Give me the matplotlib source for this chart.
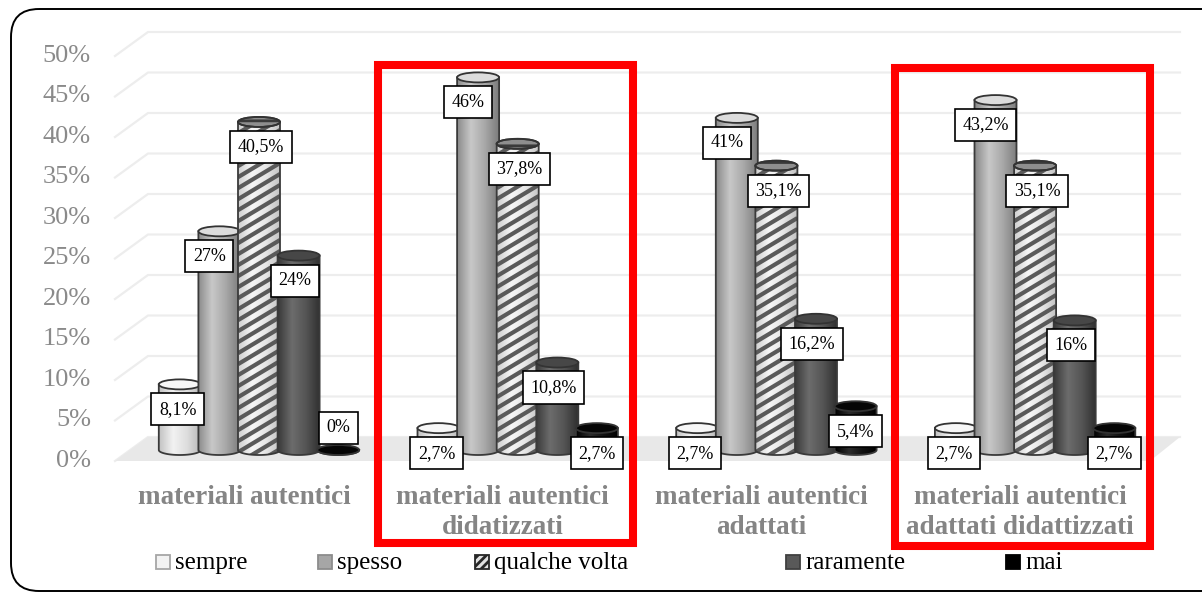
import numpy as np
import matplotlib
import matplotlib.pyplot as plt
from matplotlib.patches import Polygon, Ellipse, Rectangle, FancyBboxPatch
from matplotlib.colors import LinearSegmentedColormap
from matplotlib.collections import LineCollection

plt.rcParams['font.family'] = ['Liberation Serif', 'DejaVu Serif']
plt.rcParams['hatch.linewidth'] = 2.0

# data
categories = ["materiali autentici",
              "materiali autentici\ndidatizzati",
              "materiali autentici\nadattati",
              "materiali autentici\nadattati didattizzati"]
series = ["sempre", "spesso", "qualche volta", "raramente", "mai"]
sempre = [8.1, 2.7, 2.7, 2.7]
spesso = [27, 46, 41, 43.2]
qualche_volta = [40.5, 37.8, 35.1, 35.1]
raramente = [24, 10.8, 16.2, 16]
mai = [0, 2.7, 5.4, 2.7]
values = [sempre, spesso, qualche_volta, raramente, mai]
yticks = [0, 5, 10, 15, 20, 25, 30, 35, 40, 45, 50]
highlight = [1, 3]  # groups boxed in red

# layout (pixels)
W, H = 1202, 593
PX_PCT = 8.1       # pixels per percent
BASE = 450         # pixel row of bar base
G0, GSTEP = 259, 258.7
SSTEP, BW, EH = 39.6, 42, 10
FRONT, BACK = 11, 13   # 3D depth offsets

def xd(px):
    return (px - G0) / GSTEP

def yd(py):
    return (BASE - py) / PX_PCT

fig = plt.figure(figsize=(W / 100, H / 100), dpi=100)
ax = fig.add_axes([0, 0, 1, 1])
ax.axis('off')

# back-wall gridlines and tick labels
for v in yticks:
    yb = v + BACK / PX_PCT
    yf = v - FRONT / PX_PCT
    ax.plot([xd(115), xd(148), xd(1180)], [yf, yb, yb], color='#ededed', lw=1.6, zorder=1)
    ax.text(xd(91), yf, f"{v}%", ha='right', va='center', fontsize=19, color='#8a8a8a')

# floor
floor = Polygon([(xd(115), -FRONT / PX_PCT), (xd(148), BACK / PX_PCT),
                 (xd(1180), BACK / PX_PCT), (xd(1150), -FRONT / PX_PCT)],
                closed=True, facecolor='#e8e8e8', edgecolor='none', zorder=1.5)
ax.add_patch(floor)

body_cmaps = [
    ['#c2c2c2', '#f2f2f2', '#dedede', '#b8b8b8'],
    ['#8a8a8a', '#c8c8c8', '#a8a8a8', '#7c7c7c'],
    ['#cfcfcf', '#f6f6f6', '#e6e6e6', '#c4c4c4'],
    ['#3a3a3a', '#6c6c6c', '#555555', '#303030'],
    ['#000000', '#2c2c2c', '#111111', '#000000'],
]
top_colors = ['#f7f7f7', '#dcdcdc', '#8e8e8e', '#474747', '#050505']
label_dx = [-2, -10, 2, -4, 0]

w = BW / GSTEP
eh = EH / PX_PCT
grad = np.linspace(0, 1, 128)[None, :]
z = 3
for g in range(len(categories)):
    for s, vals in enumerate(values):
        v = vals[g]
        cx = g + (s - 2) * SSTEP / GSTEP
        l, r = cx - w / 2, cx + w / 2
        th = np.linspace(np.pi, 2 * np.pi, 40)
        arc = np.column_stack([cx + w / 2 * np.cos(th), eh / 2 * np.sin(th)])
        pts = np.vstack([[l, v], arc, [r, v]])
        body = Polygon(pts, closed=True, facecolor='none', edgecolor='none', zorder=z)
        ax.add_patch(body)
        cm = LinearSegmentedColormap.from_list(f"c{s}", body_cmaps[s])
        im = ax.imshow(grad, cmap=cm, extent=[l, r, -eh, v + eh], aspect='auto',
                       interpolation='bilinear', zorder=z)
        im.set_clip_path(body)
        if s == 2:
            tan = 0.6
            step = 11 / PX_PCT
            rise = BW * tan / PX_PCT
            starts = np.arange(-eh - rise, v + eh, step)
            segs = [[(l, y0), (r, y0 + rise)] for y0 in starts]
            lc = LineCollection(segs, colors='#5a5a5a', linewidths=3.0, zorder=z + 0.01)
            ax.add_collection(lc)
            lc.set_clip_path(body)
        outline = Polygon(pts, closed=True, facecolor='none', edgecolor='#3a3a3a',
                          lw=1.3, zorder=z + 0.02)
        ax.add_patch(outline)
        top = Ellipse((cx, v), w, eh, facecolor=top_colors[s], edgecolor='#333333',
                      lw=1.3, zorder=z + 0.03)
        ax.add_patch(top)
        if s == 2:
            top_h = Ellipse((cx, v), w, eh, facecolor='none', edgecolor='#3a3a3a',
                            hatch='--', lw=0, zorder=z + 0.04)
            ax.add_patch(top_h)
            top_o = Ellipse((cx, v), w, eh, facecolor='none', edgecolor='#333333',
                            lw=1.3, zorder=z + 0.05)
            ax.add_patch(top_o)
        z += 0.1

        ly = v - 25 / PX_PCT if v > 0 else v + 22 / PX_PCT
        txt = f"{v:g}".replace('.', ',') + '%'
        ax.text(cx + label_dx[s] / GSTEP, ly, txt, ha='center', va='center', fontsize=13,
                color='black', zorder=20,
                bbox=dict(boxstyle='square,pad=0.42', facecolor='white', edgecolor='black', lw=1.2))

# category labels
for g, cat in enumerate(categories):
    ax.text(g - 15 / GSTEP, yd(485), cat, ha='center', va='top', fontsize=19.5,
            fontweight='bold', color='#858585', linespacing=1.28, zorder=5)

ax.set_xlim(xd(0), xd(W))
ax.set_ylim(yd(H), yd(0))

# overlay in pixel coordinates: frame, red boxes, legend
deco = fig.add_axes([0, 0, 1, 1], zorder=10)
deco.set_xlim(0, W)
deco.set_ylim(H, 0)
deco.axis('off')
deco.patch.set_alpha(0)

deco.add_patch(FancyBboxPatch((11, 9), 1220, 582, boxstyle='round,pad=0,rounding_size=28',
                              facecolor='none', edgecolor='black', lw=1.4, clip_on=False))

for g in highlight:
    cxp = G0 + g * GSTEP
    deco.add_patch(Rectangle((cxp - 140, 68 if g == 3 else 65), 255, 478,
                             facecolor='none', edgecolor='#ff0000', lw=5.8))

leg_x = [156, 318, 475, 786, 1006]
leg_face = ['#f2f2f2', '#a6a6a6', '#e0e0e0', '#595959', '#000000']
leg_edge = ['#a6a6a6', '#8c8c8c', '#262626', '#404040', '#000000']
for i, name in enumerate(series):
    deco.add_patch(Rectangle((leg_x[i], 555), 14, 14, facecolor=leg_face[i],
                             edgecolor=leg_edge[i], lw=1.3,
                             hatch='////' if i == 2 else None))
    deco.text(leg_x[i] + 19, 563, name, ha='left', va='center', fontsize=18, color='black')

fig.savefig('out.png', dpi=100)
